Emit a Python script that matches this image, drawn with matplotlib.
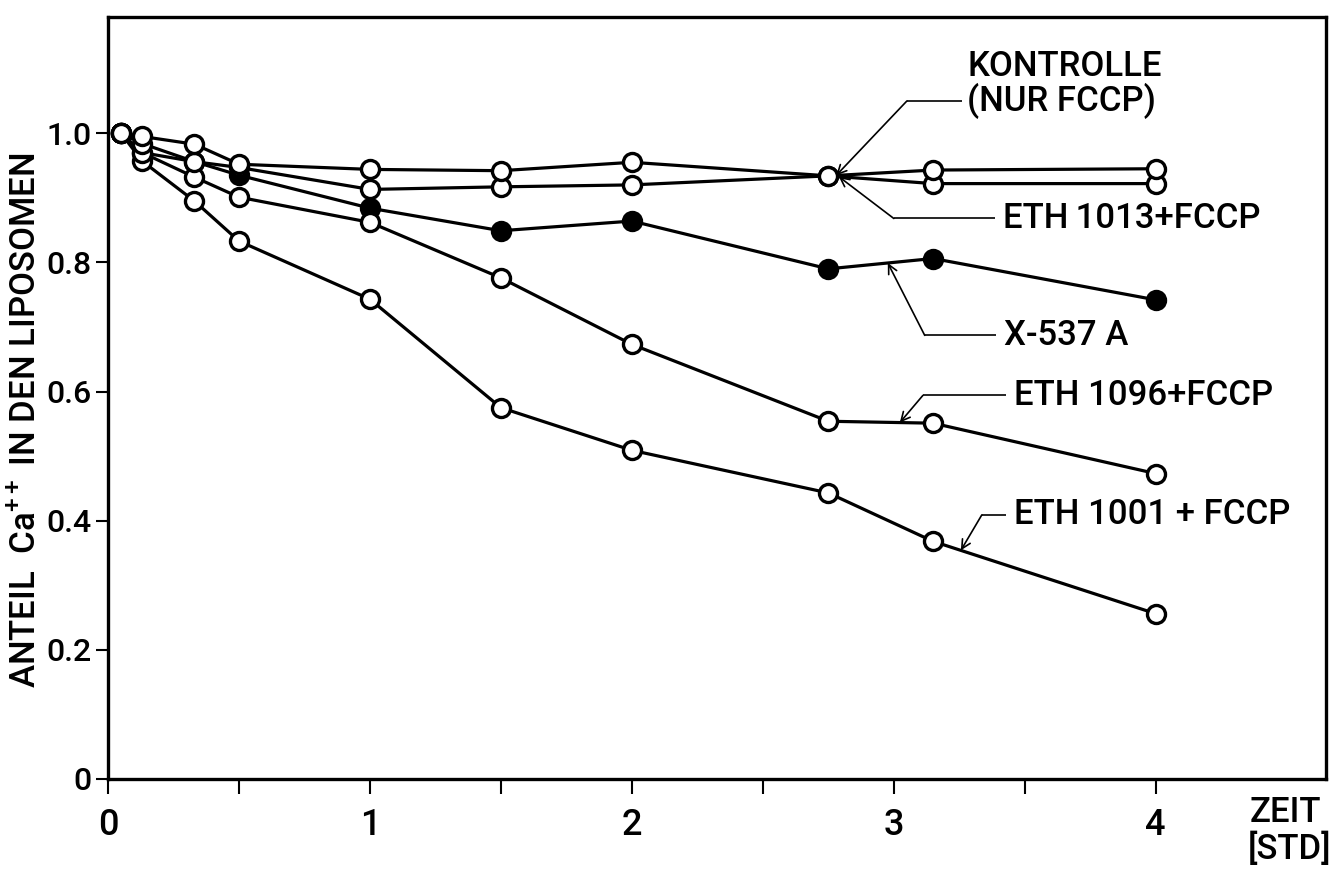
import numpy as np
import matplotlib
matplotlib.use("Agg")
import matplotlib.pyplot as plt

# Zeitpunkte [Std] und Anteil Ca++ in den Liposomen
time_h = [0.05, 0.13, 0.33, 0.5, 1.0, 1.5, 2.0, 2.75, 3.15, 4.0]
kontrolle = [1.0, 0.995, 0.983, 0.952, 0.944, 0.942, 0.955, 0.934, 0.943, 0.945]
eth1013 = [1.0, 0.984, 0.956, 0.947, 0.913, 0.917, 0.920, 0.934, 0.922, 0.922]
x537a = [1.0, 0.970, 0.956, 0.935, 0.884, 0.849, 0.864, 0.790, 0.806, 0.742]
eth1096 = [1.0, 0.970, 0.932, 0.901, 0.862, 0.776, 0.673, 0.554, 0.551, 0.473]
eth1001 = [1.0, 0.957, 0.895, 0.833, 0.743, 0.575, 0.509, 0.443, 0.368, 0.256]

x_major = [0, 1, 2, 3, 4]
x_minor = [0.5, 1.5, 2.5, 3.5]
y_ticks = [0, 0.2, 0.4, 0.6, 0.8, 1.0]
y_ticklabels = ["0", "0.2", "0.4", "0.6", "0.8", "1.0"]

plt.rcParams["font.family"] = ["Roboto", "DejaVu Sans"]
plt.rcParams["font.weight"] = "medium"
plt.rcParams["mathtext.fontset"] = "custom"
plt.rcParams["mathtext.rm"] = "Roboto:medium"
FS = 25

W, H = 1343, 874
fig = plt.figure(figsize=(W / 100, H / 100), dpi=100)
ax = fig.add_axes([108 / W, (H - 779) / H, (1326 - 108) / W, (779 - 17) / H])
ax.set_xlim(0, 4.65)
ax.set_ylim(0, 1.18)

for s in ax.spines.values():
    s.set_linewidth(2.4)

ax.set_xticks(x_major)
ax.set_xticklabels([str(v) for v in x_major])
ax.set_xticks(x_minor, minor=True)
ax.set_yticks(y_ticks)
ax.set_yticklabels(y_ticklabels)
ax.tick_params(which="both", direction="out", width=1.5, color="black")
ax.tick_params(axis="x", which="both", length=11, pad=10, labelsize=26)
ax.tick_params(axis="y", length=9, pad=3, labelsize=23)

line_kw = dict(color="black", lw=2.3, marker="o", ms=13, mec="black",
               mew=2.4, solid_joinstyle="round")
ax.plot(time_h, x537a, mfc="black", zorder=3, **line_kw)
for vals in (eth1001, eth1096, eth1013, kontrolle):
    ax.plot(time_h, vals, mfc="white", zorder=4, **line_kw)


def leader(label_xy, knee_x, tip_x, series, text, ha_gap=0.03):
    """Horizontal + slanted pointer from a label to a curve."""
    lx, ly = label_xy
    tip_y = float(np.interp(tip_x, time_h, series))
    ax.plot([lx, knee_x], [ly, ly], color="black", lw=1.2, zorder=2,
            solid_capstyle="butt")
    ax.annotate("", xy=(tip_x, tip_y), xytext=(knee_x, ly),
                arrowprops=dict(arrowstyle="->", lw=1.2, color="black",
                                shrinkA=0, shrinkB=0, mutation_scale=16),
                zorder=2)
    if text is not None:
        ax.text(lx + ha_gap, ly, text, fontsize=FS, ha="left", va="center")


# KONTROLLE (NUR FCCP): two-line label above its pointer
leader((3.26, 1.05), 3.05, 2.78, kontrolle, None)
ax.text(3.28, 1.103, "KONTROLLE", fontsize=FS, ha="left", va="center")
ax.text(3.28, 1.05, "(NUR FCCP)", fontsize=FS, ha="left", va="center")

leader((3.385, 0.868), 3.0, 2.79, eth1013, "ETH\u20091013+FCCP")
leader((3.39, 0.687), 3.118, 2.977, x537a, "X-537 A")
leader((3.43, 0.594), 3.111, 3.023, eth1096, "ETH 1096+FCCP")
leader((3.43, 0.409), 3.336, 3.256, eth1001, "ETH 1001 + FCCP")

fig.text(26 / W, 1 - 420 / H, "ANTEIL  Ca$^{++}$ IN DEN LIPOSOMEN",
         rotation=90, ha="center", va="center", fontsize=25)
fig.text(1285 / W, 1 - 812 / H, "ZEIT", ha="center", va="center", fontsize=25)
fig.text(1290 / W, 1 - 849 / H, "[STD]", ha="center", va="center", fontsize=25)

fig.savefig("out.png", dpi=100, facecolor="white")
